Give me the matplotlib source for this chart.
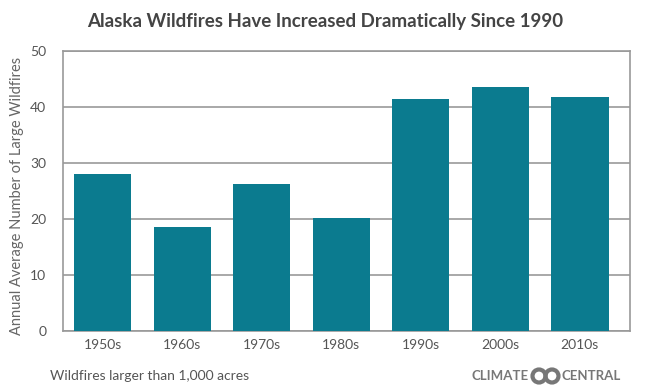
import matplotlib
matplotlib.use('Agg')
import matplotlib.pyplot as plt
from matplotlib.patches import Circle
from matplotlib.transforms import IdentityTransform

decades = ['1950s', '1960s', '1970s', '1980s', '1990s', '2000s', '2010s']
fires = [28.0, 18.6, 26.3, 20.2, 41.5, 43.5, 41.7]
yticks = [0, 10, 20, 30, 40, 50]

plt.rcParams['font.family'] = ['Lato', 'DejaVu Sans']

fig = plt.figure(figsize=(6.5, 3.9), dpi=100)
ax = fig.add_axes([63/650, 1-331/390, 567/650, 280/390])

grey = '#999999'
ax.bar(range(len(decades)), fires, width=0.72, color='#0b7b8f', zorder=3)
ax.set_xlim(-0.5, 6.63)
ax.set_ylim(0, 50)
ax.set_yticks(yticks)
ax.set_xticks(range(len(decades)))
ax.set_xticklabels(decades)
ax.yaxis.grid(True, color=grey, linewidth=1.2, zorder=0)
for s in ax.spines.values():
    s.set_color(grey)
    s.set_linewidth(1.2)
ax.tick_params(axis='both', length=0, labelsize=10, colors='#555555', pad=6)
ax.tick_params(axis='y', pad=12)

# y label placed by hand so it sits where the reference has it
fig.text(17/650, 1-196/390, 'Annual Average Number of Large Wildfires', rotation=90,
         ha='center', va='center', fontsize=10.5, color='#666666')

fig.text(0.5, 1-22/390, 'Alaska Wildfires Have Increased Dramatically Since 1990',
         ha='center', va='center', fontsize=13.5, color='#444444', fontweight='bold')
fig.text(50/650, 1-376/390, 'Wildfires larger than 1,000 acres',
         ha='left', va='center', fontsize=10, color='#555555')

# logo
fig.text(529/650, 1-376/390, 'CLIMATE', ha='right', va='center', fontsize=9.5,
         color='#777777', fontweight='bold')
fig.text(562/650, 1-376/390, 'CENTRAL', ha='left', va='center', fontsize=9.5,
         color='#777777', fontweight='bold')
for cx in (539, 552):
    fig.add_artist(Circle((cx, 14), 6.5, transform=IdentityTransform(),
                          fill=False, edgecolor='#777777', linewidth=3.0))

fig.savefig('out.png', dpi=100)
